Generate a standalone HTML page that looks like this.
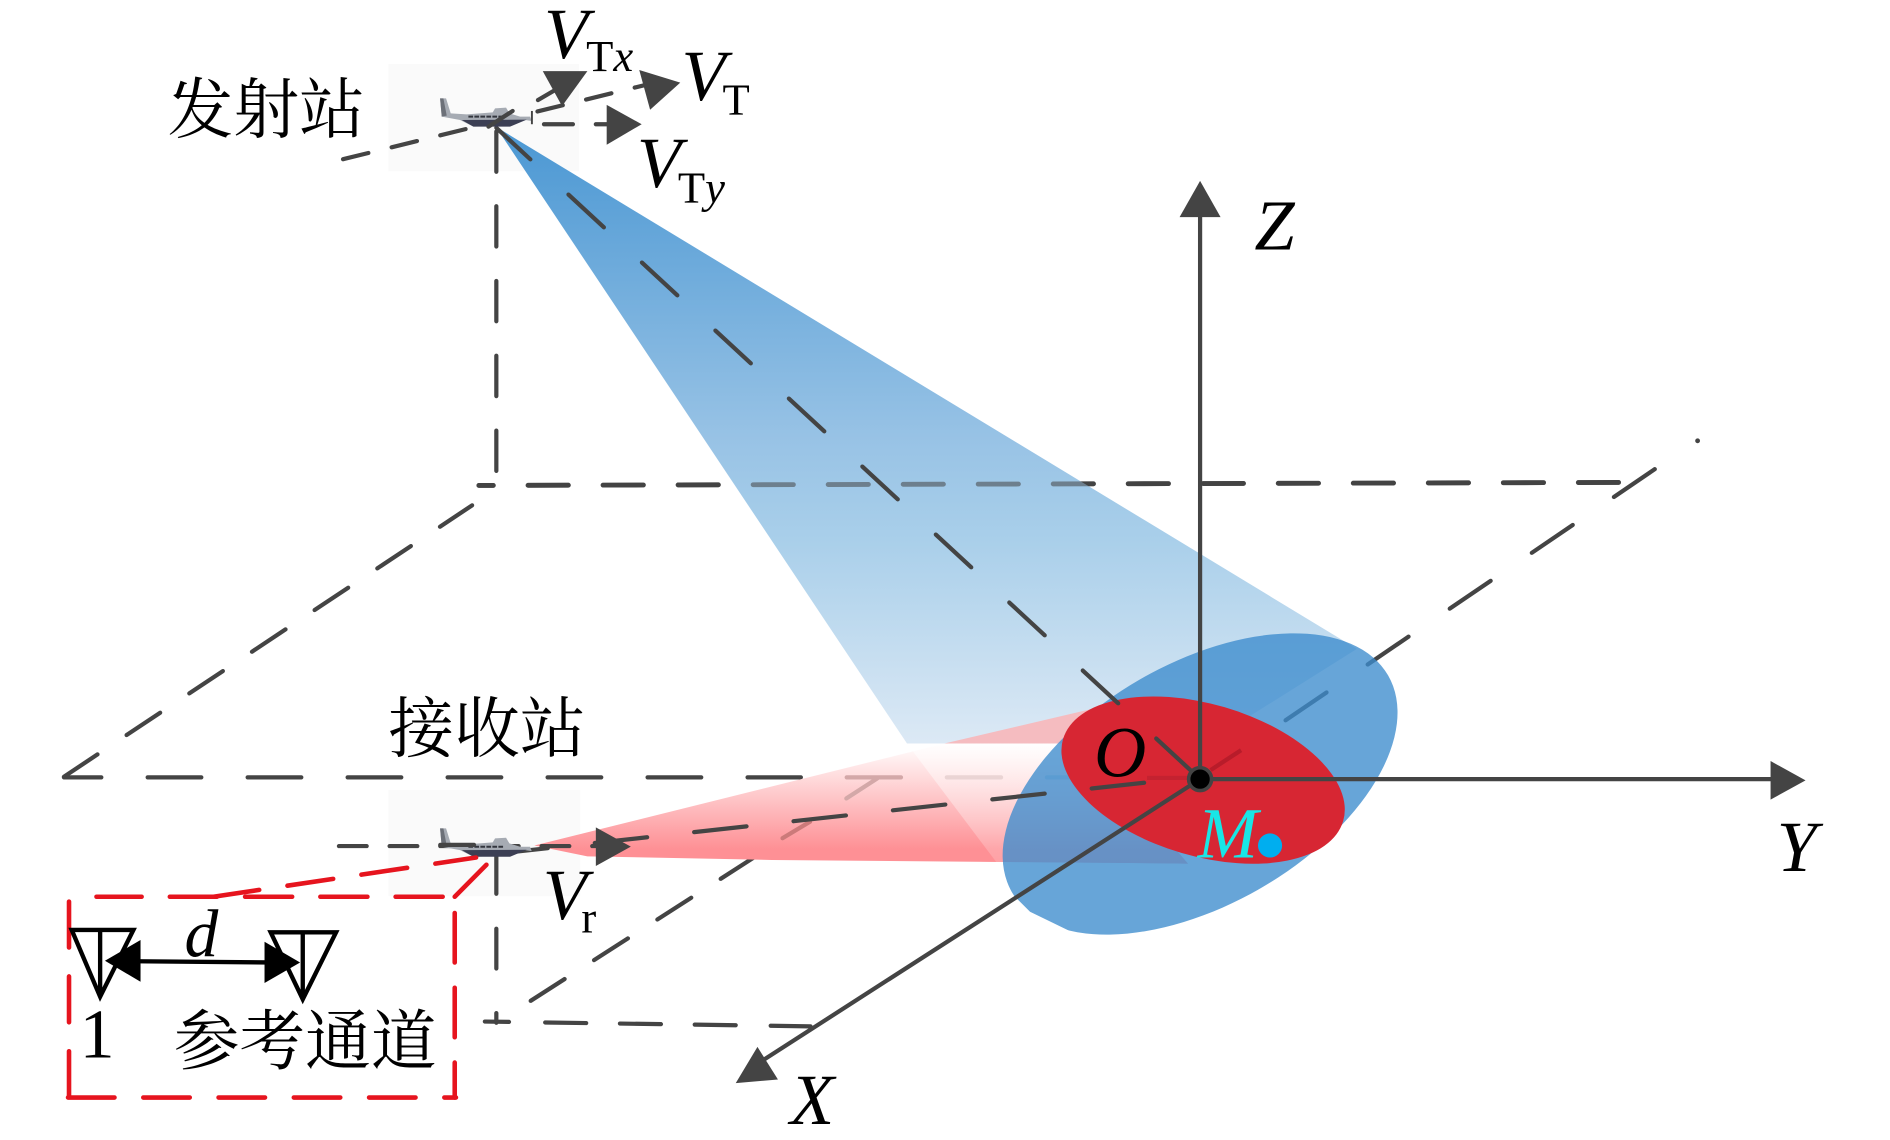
<!DOCTYPE html>
<html><head><meta charset="utf-8"><style>html,body{margin:0;padding:0;background:#fff}svg{display:block}</style></head><body>
<svg xmlns="http://www.w3.org/2000/svg" width="1890" height="1140" viewBox="0 0 1567 945.2">
<defs>
<linearGradient id="blue" gradientUnits="userSpaceOnUse" x1="0" y1="105" x2="0" y2="616"><stop offset="0" stop-color="#4a97d3"/><stop offset=".5" stop-color="#97c2e5"/><stop offset=".67" stop-color="#a9cfea"/><stop offset="1" stop-color="#dce9f5"/></linearGradient>
<linearGradient id="red" gradientUnits="userSpaceOnUse" x1="0" y1="616" x2="0" y2="704"><stop offset="0" stop-color="#fff"/><stop offset="1" stop-color="#fe9095"/></linearGradient>
<linearGradient id="fade" gradientUnits="userSpaceOnUse" x1="0" y1="616" x2="0" y2="716"><stop offset="0" stop-color="#fff" stop-opacity=".55"/><stop offset="1" stop-color="#fff" stop-opacity=".15"/></linearGradient>
<g id="plane">
<polygon points="30,40 48,40 62,85 110,88 188,82 195,70 228,68 238,85 270,95 300,95 305,108 285,105 240,122 130,125 90,105 35,95" fill="#a6abb3"/>
<polygon points="30,40 40,40 50,92 35,95" fill="#6c7078"/>
<polygon points="95,105 290,104 240,125 130,125" fill="#3c3f54"/>
<path d="M115,95H222" stroke="#33363e" stroke-width="6" stroke-dasharray="14,4" fill="none"/>
</g>
</defs>
<rect width="1567" height="946" fill="#fff"/>
<rect x="322" y="53" width="158" height="89" fill="#fafafa"/>
<rect x="322" y="655" width="159" height="88" fill="#fafafa"/>

<g fill="none" stroke="#444" stroke-width="3.5" stroke-linecap="round">
<path d="M1342,400 L397,402.5" stroke-width="4" stroke-dasharray="33.4,28.8"/>
<path d="M53,644 L391.4,419" stroke-dasharray="33.4,29"/>
<path d="M53,644.5 H664" stroke-dasharray="31,38.4,44.5,38.4,44.5,38.4,44.5,38.4,44.5,38.4,44.5,38.4,44.5,38.4,44.5,38.4"/>
<path d="M1372,389 L1003,640" stroke-dasharray="41,41.3"/>
<path d="M440,829.8 L625,711" stroke-dasharray="33.4,29"/>
</g>

<polygon points="443,701 783,616.5 985,716 640,713 487,710" fill="url(#red)"/>
<polygon points="783,616.5 900,616.5 985,716 780,714" fill="url(#red)"/>
<polygon points="411,105 1125,538 1000,616.5 752,616.5" fill="url(#blue)"/>
<polygon points="783,616.5 913,586 905,616.5" fill="#f5bcc0"/>
<polygon points="752,616.5 1000,616.5 1000,716 827,716" fill="url(#fade)"/>
<path d="M1342,400 L397,402.5" fill="none" stroke="#444" stroke-opacity=".55" stroke-width="4" stroke-linecap="round" stroke-dasharray="33.4,28.8"/>

<g fill="none" stroke-width="3.5" stroke-linecap="round">
<path d="M702,644.5H747" stroke="#d3a8a8"/>
<path d="M785,644.5H830" stroke="#ead4d4"/>
<path d="M868,644.5H915" stroke="#c8d6e2"/>
<path d="M648.8,695L671.6,681.3" stroke="#cc7a7a"/>
<path d="M701.7,662L727.4,645.4" stroke="#d3a8a8"/>
</g>

<ellipse cx="995" cy="650" rx="180" ry="100" transform="rotate(-30 995 650)" fill="rgb(60,140,205)" fill-opacity=".78"/>
<polygon points="842,744 854,756 889,773 880,795 825,770" fill="#fff"/>
<ellipse cx="997.5" cy="646.8" rx="121" ry="63" transform="rotate(16.3 997.5 646.8)" fill="#d72633"/>
<path d="M1029,622L1003.7,638.5" stroke="#b81c2a" stroke-width="3.5" fill="none"/>
<path d="M951,645H995" stroke="#c42230" stroke-width="3.5" fill="none"/>

<g fill="none" stroke="#444" stroke-width="3.5" stroke-linecap="round">
<path d="M411.5,109V391" stroke-dasharray="33.4,28.6"/>
<path d="M988,639.5L411.5,106" stroke-dasharray="40,43"/>
<path d="M410.7,708L948.6,649" stroke-dasharray="43.7,39.2"/>
<path d="M411.5,707V741M411.5,770V803M411.5,840V848"/>
<path d="M402,847L672,851" stroke-dasharray="20,30,34,28,34,28,34,29,33"/>
<path d="M281,701.5H514" stroke-dasharray="23,19"/>
<path d="M284.4,132L545,68" stroke-dasharray="21.6,19.9"/>
<path d="M446,83L463,73"/>
<path d="M451,103H475M494,103H503"/>
<path d="M995,646V175M995,646H1470M995,646L628,882"/>
</g>
<circle cx="1407.5" cy="365.5" r="2" fill="#444"/>
<polygon points="978,180 995,150 1012,180" fill="#444"/>
<polygon points="1468,631 1497,647 1468,663" fill="#444"/>
<polygon points="628,868 610,898 645,895" fill="#444"/>
<polygon points="450,59 487,59 466,88" fill="#444"/>
<polygon points="530,58 564,68.5 539,91" fill="#444"/>
<polygon points="503,87 532,103 503,120" fill="#444"/>
<polygon points="494,686 523,702 494,718" fill="#444"/>
<circle cx="995" cy="646" r="9.5" fill="#000" stroke="#444" stroke-width="3"/>

<use href="#plane" transform="scale(.8292) translate(430,85) scale(.3333)"/>
<path d="M405,105L425,92" stroke="#444" stroke-width="3.5" stroke-linecap="round"/>
<path d="M441,92V103" stroke="#444" stroke-width="1.6"/>
<use href="#plane" transform="scale(.8292) translate(430,815) scale(.3333)"/>
<path d="M365,700.5H393" stroke="#444" stroke-width="3.5" stroke-linecap="round"/>

<g fill="none" stroke="#e6141e" stroke-width="3.8" stroke-linecap="round">
<path d="M367,743.5L80,743.5" stroke-dasharray="39,23.4"/>
<path d="M377,757V910" stroke-dasharray="41,21"/>
<path d="M56.4,910H378" stroke-dasharray="38.5,23.9"/>
<path d="M57.2,909.6V744" stroke-dasharray="38,24"/>
<path d="M177,743.5L394.7,711" stroke-dasharray="38.3,23.7"/>
<path d="M377,743.5L403.3,717"/>
</g>
<g fill="none" stroke="#000" stroke-width="3.6">
<path d="M59.4,771H110.6L83,826.4ZM83,771V826"/>
<path d="M224.4,773H278.6L251,828.5ZM251,773V828"/>
<path d="M112,797L222,798"/>
</g>
<polygon points="87,796.6 116.5,779.4 116.5,814" fill="#000"/>
<polygon points="248.8,798 219.3,780.8 219.3,815" fill="#000"/>
<circle cx="1053" cy="701" r="10" fill="#00aeef"/>
<g font-family="'Noto Serif CJK SC','Liberation Serif',serif" font-size="54.5" fill="#000">
<text x="139" y="110">发射站</text>
<text x="322" y="623">接收站</text>
<text x="144" y="882" textLength="218">参考通道</text>
</g>
<g font-family="'Liberation Serif',serif" font-style="italic" font-size="60" fill="#000">
<text x="451" y="48">V</text>
<text x="565" y="83">V</text>
<text x="528" y="155">V</text>
<text x="450" y="762">V</text>
<text x="1040" y="207">Z</text>
<text x="655" y="932">X</text>
<text x="1473" y="722">Y</text>
<text x="907" y="644">O</text>
<text x="993" y="711" fill="#19e6e6">M</text>
<text x="153" y="793" font-size="56">d</text>
</g>
<g font-family="'Liberation Serif',serif" font-size="37" fill="#000">
<text x="486" y="59">T<tspan font-style="italic">x</tspan></text>
<text x="599" y="95">T</text>
<text x="562" y="168">T<tspan font-style="italic">y</tspan></text>
<text x="482" y="773">r</text>
</g>
<text x="66" y="877" font-family="'Liberation Serif',serif" font-size="58" fill="#000">1</text>
</svg>
</body></html>
